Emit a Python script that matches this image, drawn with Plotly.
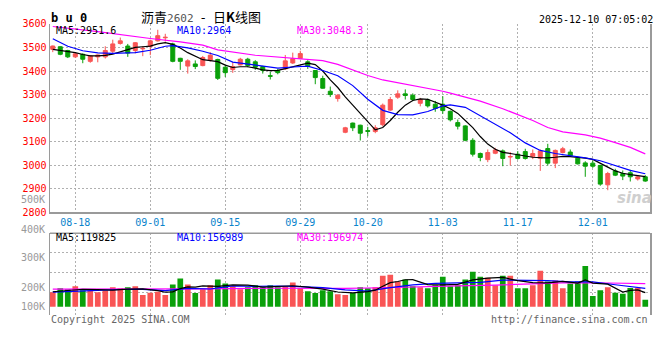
import plotly.graph_objects as go

# ---------------- data ----------------
dates = ["08-13","08-14","08-15","08-18","08-19","08-20","08-21","08-22","08-25","08-26",
         "08-27","08-28","08-29","09-01","09-02","09-03","09-04","09-05","09-08","09-09",
         "09-10","09-11","09-12","09-15","09-16","09-17","09-18","09-19","09-22","09-23",
         "09-24","09-25","09-26","09-29","09-30","10-09","10-10","10-13","10-14","10-15",
         "10-16","10-17","10-20","10-21","10-22","10-23","10-24","10-27","10-28","10-29",
         "10-30","10-31","11-03","11-04","11-05","11-06","11-07","11-10","11-11","11-12",
         "11-13","11-14","11-17","11-18","11-19","11-20","11-21","11-24","11-25","11-26",
         "11-27","11-28","12-01","12-02","12-03","12-04","12-05","12-08","12-09","12-10"]

opens = [3492,3503,3487,3460,3471,3441,3460,3460,3484,3517,3506,3487,3494,3504,3528,3541,3515,3454,3421,3430,
         3423,3446,3449,3416,3406,3426,3450,3439,3419,3380,3402,3409,3434,3453,3439,3402,3368,3314,3283,3140,
         3179,3170,3147,3143,3172,3234,3289,3303,3297,3263,3277,3259,3259,3229,3181,3167,3106,3050,3024,3051,
         3061,3035,3047,3058,3036,3030,3071,3009,3054,3056,3030,3010,3009,2999,2917,2976,2965,2968,2942,2951]
highs = [3508,3505,3490,3478,3475,3466,3470,3505,3533,3542,3515,3523,3505,3533,3575,3558,3520,3456,3450,3445,
         3464,3480,3452,3423,3438,3456,3456,3446,3422,3396,3409,3468,3478,3486,3446,3404,3380,3334,3302,3163,
         3181,3172,3163,3170,3262,3290,3318,3322,3305,3286,3283,3273,3293,3232,3194,3170,3115,3054,3067,3074,
         3067,3056,3060,3070,3067,3067,3091,3067,3078,3067,3036,3017,3020,3002,2972,2985,2978,2981,2958,2958]
lows = [3480,3467,3455,3455,3433,3435,3437,3453,3476,3512,3460,3475,3463,3467,3525,3525,3437,3405,3389,3408,
        3420,3440,3362,3375,3392,3424,3416,3405,3389,3364,3386,3405,3430,3450,3409,3344,3325,3290,3270,3136,
        3145,3105,3123,3136,3165,3230,3282,3279,3272,3250,3245,3227,3218,3186,3152,3102,3037,3017,3013,3047,
        2996,2999,3024,3024,3026,2976,2999,2988,3050,3036,3003,2951,2989,2913,2894,2954,2937,2931,2935,2930]
closes = [3506,3471,3460,3473,3450,3464,3468,3487,3515,3528,3476,3520,3496,3528,3550,3543,3441,3441,3443,3419,
          3457,3467,3369,3393,3419,3450,3423,3416,3402,3378,3393,3443,3453,3474,3422,3372,3327,3300,3297,3159,
          3159,3136,3144,3159,3255,3279,3303,3296,3279,3279,3252,3241,3232,3193,3166,3106,3047,3033,3054,3065,
          3029,3037,3029,3029,3050,3061,3009,3063,3070,3040,3006,2996,2996,2920,2965,2958,2954,2951,2951,2933]
volumes = [124500,157700,149400,174300,141100,138600,124500,138600,166000,157700,
           166000,174300,99600,118700,127000,99600,190900,240700,190900,116200,
           149400,182600,232400,199200,174300,149400,166000,182600,166000,182600,
           166000,174300,207500,157700,132800,116200,141100,132800,105400,99600,
           116200,166000,157700,166000,265600,273900,215800,232400,174300,166000,
           157700,182600,257300,174300,182600,232400,298800,257300,249000,182600,
           265600,265600,157700,157700,182600,307100,215800,224100,157700,199200,
           215800,348600,91300,141100,166000,118700,110400,160200,160200,58100]

ma5_price = [3492,3488,3484,3478,3470,3464,3464,3466,3472,3482,3492,3500,3503,3506,3515,3520,3513,3498,3478,3462,
             3448,3444,3440,3425,3415,3418,3418,3412,3405,3402,3403,3410,3418,3428,3433,3427,3400,3362,3330,3290,
             3255,3222,3185,3150,3160,3190,3225,3255,3275,3282,3280,3268,3255,3240,3220,3190,3160,3122,3090,3068,
             3055,3050,3044,3039,3034,3032,3031,3034,3038,3037,3035,3030,3025,3010,2992,2976,2966,2960,2956,2951.6]
ma10_idx = [0,2,4,6,8,11,13,15,16,18,20,22,24,27,30,32,34,36,38,40,42,44,46,48,50,52,53,55,57,59,61,63,65,67,69,71,73,75,77,79]
ma10_price = [3537,3505,3486,3477,3475,3478,3488,3505,3508,3498,3484,3466,3438,3424,3412,3417,3421,3402,3380,3338,
              3280,3233,3215,3214,3228,3252,3256,3246,3210,3175,3138,3095,3063,3050,3041,3031,3019,2997,2978,2964]
ma30_idx = [0,6,13,17,20,22,27,31,36,38,40,42,44,47,49,52,53,57,60,64,66,68,71,73,75,77,79]
ma30_price = [3589,3567,3538,3524,3510,3490,3467,3456,3444,3428,3405,3381,3362,3345,3332,3314,3306,3272,3240,3190,
              3160,3142,3129,3115,3096,3076,3048.3]

vma5_idx = [0,2,4,6,8,10,12,14,15,16,17,18,19,20,22,24,26,28,30,32,34,36,38,40,42,43,44,45,46,47,48,50,52,54,56,58,60,62,64,66,68,70,71,72,74,76,77,78,79]
vma5 = [128000,140000,149400,145600,141800,150600,152700,137100,123800,127200,155200,169800,167700,177600,174300,187600,
        184300,167700,172600,179300,167700,151100,125700,119000,129000,141100,174300,205800,215800,230700,232400,189200,
        187600,190900,229100,244000,250700,224100,205800,204200,217500,202500,229100,202500,192600,125500,139300,143100,119825]
vma10_idx = [0,3,6,9,12,15,18,21,24,27,30,33,36,39,42,45,48,51,54,57,60,63,66,69,72,75,77,79]
vma10 = [124000,135000,140000,147200,148100,137200,156500,151600,177600,174300,177100,172600,162700,143300,132600,162400,
         186800,199200,201700,208300,228300,224900,224100,213300,212000,187800,170900,156989]
vma30_idx = [0,10,20,29,34,39,44,49,54,59,64,69,74,79]
vma30 = [150000,150000,152000,158000,157000,157000,162000,172000,178000,185000,197000,206000,203000,196974]

date_ticks = ["08-18","09-01","09-15","09-29","10-20","11-03","11-17","12-01"]
price_ticks = [2800,2900,3000,3100,3200,3300,3400,3500,3600]
vol_labels = ["500K","400K","300K","200K","100K"]

# ---------------- styling ----------------
W, H = 660, 360
RED, GREEN = "#f95555", "#0aa00a"
MONO = "DejaVu Sans Mono"
GRID = "#b0b0b0"
BORDER = "#9a9a9a"

def xp(px): return px / W
def yp(py): return 1 - py / H

x = list(range(len(dates)))
tickvals = [dates.index(d) for d in date_ticks]
vol_colors = [RED if c >= o else GREEN for o, c in zip(opens, closes)]

fig = go.Figure()
fig.add_trace(go.Candlestick(
    x=x, open=opens, high=highs, low=lows, close=closes,
    increasing=dict(line=dict(color=RED, width=1), fillcolor=RED),
    decreasing=dict(line=dict(color=GREEN, width=1), fillcolor=GREEN),
    whiskerwidth=0, hoverinfo="skip", showlegend=False, xaxis="x", yaxis="y"))
fig.add_trace(go.Scatter(x=x, y=ma5_price, mode="lines", line=dict(color="#000000", width=1.2),
                         hoverinfo="skip", xaxis="x", yaxis="y"))
fig.add_trace(go.Scatter(x=ma10_idx, y=ma10_price, mode="lines", line=dict(color="#0000ff", width=1.2),
                         hoverinfo="skip", xaxis="x", yaxis="y"))
fig.add_trace(go.Scatter(x=ma30_idx, y=ma30_price, mode="lines", line=dict(color="#ff00ff", width=1.2),
                         hoverinfo="skip", xaxis="x", yaxis="y"))

fig.add_trace(go.Bar(x=x, y=volumes, marker=dict(color=vol_colors, line=dict(width=0)), width=0.76,
                     hoverinfo="skip", xaxis="x2", yaxis="y2"))
fig.add_trace(go.Scatter(x=vma30_idx, y=vma30, mode="lines", line=dict(color="#ff00ff", width=1.2),
                         hoverinfo="skip", xaxis="x2", yaxis="y2"))
fig.add_trace(go.Scatter(x=vma10_idx, y=vma10, mode="lines", line=dict(color="#0000ff", width=1.2),
                         hoverinfo="skip", xaxis="x2", yaxis="y2"))
fig.add_trace(go.Scatter(x=vma5_idx, y=vma5, mode="lines", line=dict(color="#000000", width=1.2),
                         hoverinfo="skip", xaxis="x2", yaxis="y2"))

xr = [-0.37, 79.63]
vol_per_px = 8300
fig.update_layout(
    width=W, height=H, margin=dict(l=0, r=0, t=0, b=0),
    paper_bgcolor="white", plot_bgcolor="white", showlegend=False, boxgap=0.24,
    xaxis=dict(domain=[xp(50), xp(650)], range=xr, anchor="y", tickmode="array",
               tickvals=tickvals, ticktext=date_ticks, ticks="",
               tickfont=dict(family=MONO, size=10, color="#0a84cc"),
               showgrid=True, gridcolor=GRID, griddash="2px,2px", gridwidth=1,
               showline=True, linecolor=BORDER, linewidth=2, zeroline=False,
               rangeslider=dict(visible=False), fixedrange=True),
    yaxis=dict(domain=[yp(213.5), yp(18.5)], range=[2800, 3600], anchor="x",
               tickmode="array", tickvals=price_ticks, ticks="",
               tickfont=dict(family=MONO, size=10, color="#ff0000"),
               showgrid=True, gridcolor=GRID, griddash="2px,2px", gridwidth=1,
               showline=True, linecolor=BORDER, linewidth=1.5, mirror=True, zeroline=False,
               fixedrange=True),
    xaxis2=dict(domain=[xp(50), xp(650)], range=xr, anchor="y2", matches="x", tickmode="array",
                tickvals=tickvals, showticklabels=False, ticks="",
                showgrid=True, gridcolor=GRID, griddash="2px,2px", gridwidth=1,
                showline=False, zeroline=False, fixedrange=True),
    yaxis2=dict(domain=[yp(320), yp(235)], range=[-(320 - 311) * vol_per_px, (311 - 235) * vol_per_px],
                anchor="x2", tickmode="array",
                tickvals=[(311 - 296) * vol_per_px, (311 - 275.7) * vol_per_px, (311 - 255.3) * vol_per_px],
                showticklabels=False, ticks="",
                showgrid=True, gridcolor=GRID, griddash="2px,2px", gridwidth=1,
                showline=True, linecolor=BORDER, linewidth=1.5, mirror=True, zeroline=False,
                fixedrange=True),
)

shapes = [dict(type="line", xref="paper", yref="paper", x0=xp(50), x1=xp(650), y0=yp(235), y1=yp(235),
               line=dict(color=BORDER, width=1.5))]
fig.update_layout(shapes=shapes)

ann = []
def text(s, x, y, color="#000", size=10, xanchor="left", family=MONO, **kw):
    ann.append(dict(text=s, x=xp(x), y=yp(y), xref="paper", yref="paper", showarrow=False,
                    xanchor=xanchor, yanchor="middle", font=dict(family=family, size=size, color=color), **kw))

text("<b>b u 0</b>", 49, 12, size=12)
text("沥青<span style=\"font-family:DejaVu Sans Mono;font-size:11px;color:#555\">2602</span>"
     "  <span style=\"font-family:DejaVu Sans Mono\">-</span>  日<b>K</b>线图",
     139, 11, size=13, family="Noto Sans CJK SC")
text("2025-12-10 07:05:02", 655, 14, xanchor="right")
text("MA5:2951.6", 54, 25)
text("MA10:2964", 175, 25, color="#0000ff")
text("MA30:3048.3", 295, 25, color="#ff00ff")
text("MA5:119825", 54, 239)
text("MA10:156989", 175, 239, color="#0000ff")
text("MA30:196974", 295, 239, color="#ff00ff")
for lab, yy in zip(vol_labels, [200, 231, 260, 290.7, 311]):
    text(lab, 46.5, yy, color="#999999", xanchor="right")
text("Copyright 2025 SINA.COM", 49, 324, color="#666666")
text("http://finance.sina.com.cn", 650, 324, color="#666666", xanchor="right")
ann.append(dict(text="<b><i>sina</i></b>", x=xp(634), y=yp(199), xref="paper", yref="paper",
                showarrow=False, xanchor="center", yanchor="middle",
                font=dict(family="DejaVu Sans", size=15, color="#cfcfcf")))
fig.update_layout(annotations=ann)

fig.write_html("out.html", config={"displayModeBar": False, "staticPlot": True},
               post_script="document.body.style.margin='0';document.body.style.overflow='hidden';")
